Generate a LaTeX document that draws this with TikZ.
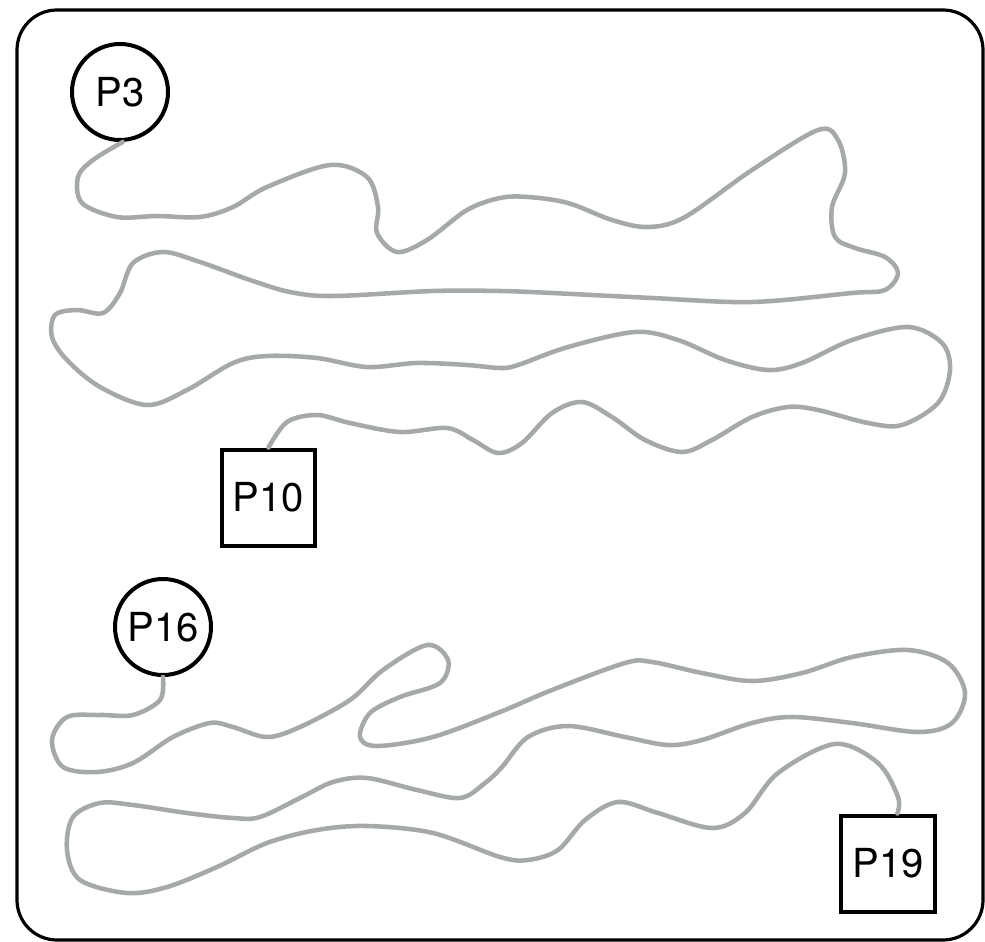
\documentclass[tikz,border=0pt]{standalone}
\usepackage{fontspec}
\setmainfont{TeX Gyre Heros}
\definecolor{wiregray}{RGB}{165,170,168}
\begin{document}
\begin{tikzpicture}[x=0.75pt,y=-0.75pt,
  lbl/.style={font=\fontsize{30}{35}\selectfont},
  pcircle/.style={lbl,circle,draw=black,line width=3pt,minimum size=72pt,inner sep=0pt},
  pbox/.style={lbl,rectangle,draw=black,line width=3pt,minimum width=70pt,minimum height=72pt,inner sep=0pt},
  wire/.style={draw=wiregray,line width=3.4pt,line cap=round,line join=round},
  frame/.style={draw=black,line width=2.4pt,rounded corners=30pt}]
\useasboundingbox (0,0) rectangle (985,942);
\draw[frame] (17,10) rectangle (983,940);

\node[pcircle] (P3) at (120,92) {P3};
\node[pbox] (P10) at (268.5,497.5) {P10};
\node[pcircle] (P16) at (163,627) {P16};
\node[pbox] (P19) at (888,863.5) {P19};

\draw[wire] plot[smooth,tension=0.55] coordinates {
 ([xshift=2pt]P3.south) (93,160) (78,177) (82,203) (117,217) (157,216) (200,217)
 (233,207) (267,187) (330,165) (367,177) (378,207) (377,233) (397,252) (427,240)
 (467,210) (500,198) (528,197) (568,203) (612,220) (648,227) (685,217) (752,170)
 (818,130) (838,140) (845,173) (832,207) (835,237) (855,248) (885,257) (898,273)
 (885,290) (852,293) (752,302) (652,298) (552,293) (500,291) (433,291) (333,296)
 (290,292) (250,280) (200,262) (163,252) (133,263) (120,293) (103,313) (77,310)
 (55,315) (52,337) (67,360) (100,387) (147,405) (187,390) (233,363) (267,356)
 (317,358) (367,367) (417,363) (467,365) (500,368) (518,365) (568,347) (635,332)
 (678,340) (725,360) (768,370) (802,363) (852,340) (908,327) (942,343) (950,370)
 (938,403) (902,425) (868,423) (818,410) (788,407) (752,417) (712,440) (682,452)
 (645,440) (612,417) (582,402) (552,413) (522,443) (498,453) (473,440) (447,428)
 (400,432) (350,423) (317,415) (287,422) (P10.north)};

\draw[wire] plot[smooth,tension=0.55] coordinates {
 (P16.south) (160,700) (133,715) (100,715) (67,717) (52,740) (63,767) (97,772)
 (133,763) (173,737) (210,723) (233,727) (267,737) (300,727) (350,700) (383,670)
 (427,645) (448,660) (440,683) (400,697) (370,713) (360,737) (377,746) (433,737)
 (500,712) (552,690) (625,663) (652,662) (702,673) (752,681) (802,673) (852,657)
 (908,650) (948,663) (965,693) (952,723) (918,732) (852,723) (792,717) (752,723)
 (702,740) (668,745) (625,737) (568,726) (528,737) (502,767) (485,783) (460,798)
 (417,790) (367,778) (333,782) (300,798) (260,817) (233,818) (187,813) (133,805)
 (100,803) (73,817) (67,850) (80,880) (127,893) (167,887) (217,867) (267,843)
 (317,830) (367,826) (433,833) (500,857) (528,860) (558,850) (585,820) (618,802)
 (658,813) (712,828) (745,813) (778,773) (835,744) (878,763) (898,797)
 ([xshift=7pt]P19.north)};
\end{tikzpicture}
\end{document}
